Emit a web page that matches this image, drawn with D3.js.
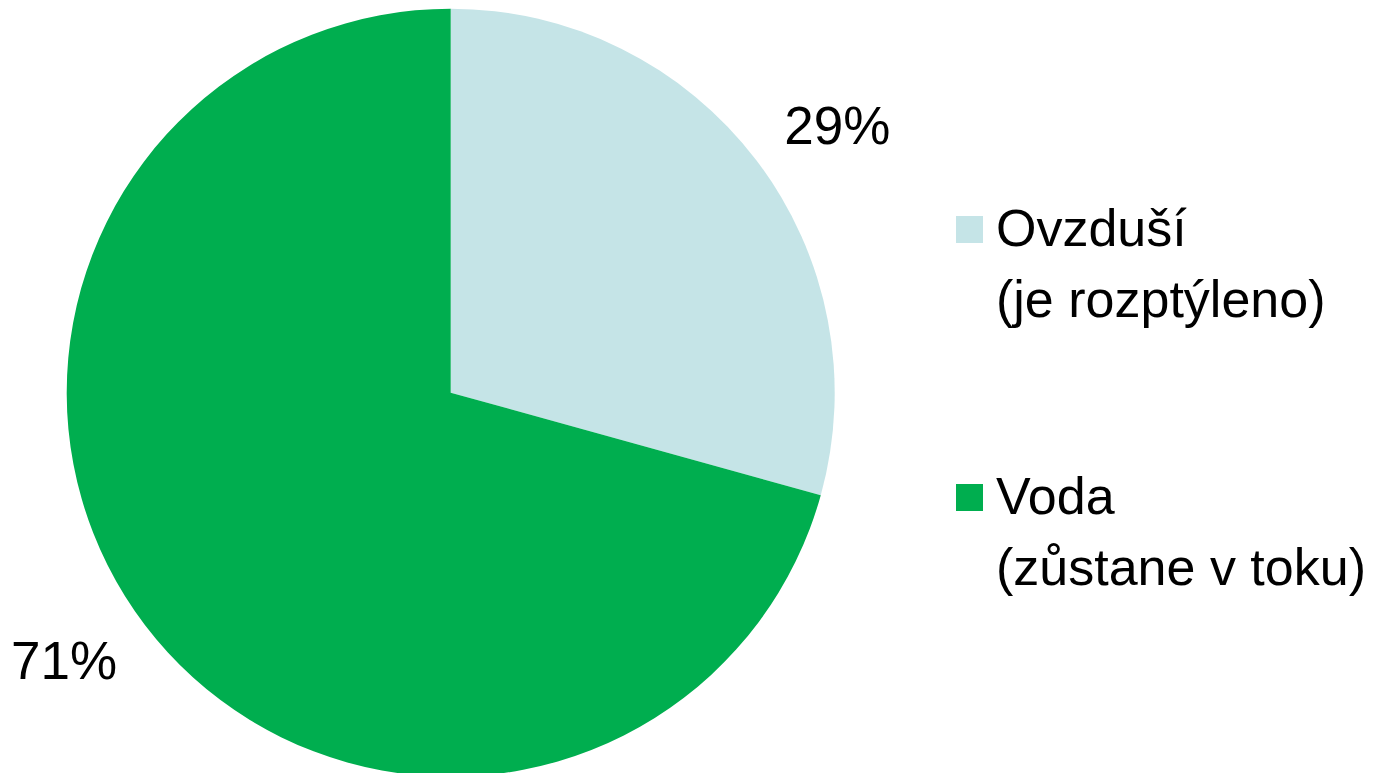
<!DOCTYPE html>
<html>
<head>
<meta charset="utf-8">
<script src="https://cdnjs.cloudflare.com/ajax/libs/d3/7.8.5/d3.min.js"></script>
<style>
  html, body { margin: 0; padding: 0; background: #fff; }
  svg { display: block; font-family: "Liberation Sans", Arial, sans-serif; }
</style>
</head>
<body>
<svg width="1383" height="773"></svg>
<script>
// data
const categories = ["Ovzduší", "Voda"];
const subtitles = ["(je rozptýleno)", "(zůstane v toku)"];
const values = [29.3, 70.7];
const colors = ["#c5e4e7", "#00ae4f"];

const svg = d3.select("svg");

// pie geometry
const cx = 450.7, cy = 392.7, radius = 384;
const labelRadius = 470;

const pie = d3.pie().sort(null).value((d) => d);
const arcs = pie(values);

const arc = d3.arc().innerRadius(0).outerRadius(radius);

const g = svg.append("g").attr("transform", `translate(${cx},${cy})`);

g.selectAll("path")
  .data(arcs)
  .enter()
  .append("path")
  .attr("d", arc)
  .attr("fill", (d, i) => colors[i]);

// percentage labels (slightly rotated clockwise like the original layout)
const labelShift = 2.6 * Math.PI / 180;
g.selectAll("text.pct")
  .data(arcs)
  .enter()
  .append("text")
  .attr("class", "pct")
  .attr("x", (d) => labelRadius * Math.sin((d.startAngle + d.endAngle) / 2 + labelShift))
  .attr("y", (d) => -labelRadius * Math.cos((d.startAngle + d.endAngle) / 2 + labelShift))
  .attr("dy", "0.36em")
  .attr("text-anchor", "middle")
  .attr("font-size", 53)
  .attr("fill", "#000")
  .text((d) => Math.round(d.value / d3.sum(values) * 100) + "%");

// legend
const legend = svg.append("g").attr("transform", "translate(956,216)");
const item = legend.selectAll("g")
  .data(categories)
  .enter()
  .append("g")
  .attr("transform", (d, i) => `translate(0,${i * 268})`);

item.append("rect")
  .attr("width", 27)
  .attr("height", 27)
  .attr("fill", (d, i) => colors[i]);

item.append("text")
  .attr("x", 40)
  .attr("y", 30)
  .attr("font-size", 52)
  .attr("fill", "#000")
  .text((d) => d);

item.append("text")
  .attr("x", 40)
  .attr("y", 101)
  .attr("font-size", 52)
  .attr("fill", "#000")
  .text((d, i) => subtitles[i]);
</script>
</body>
</html>
